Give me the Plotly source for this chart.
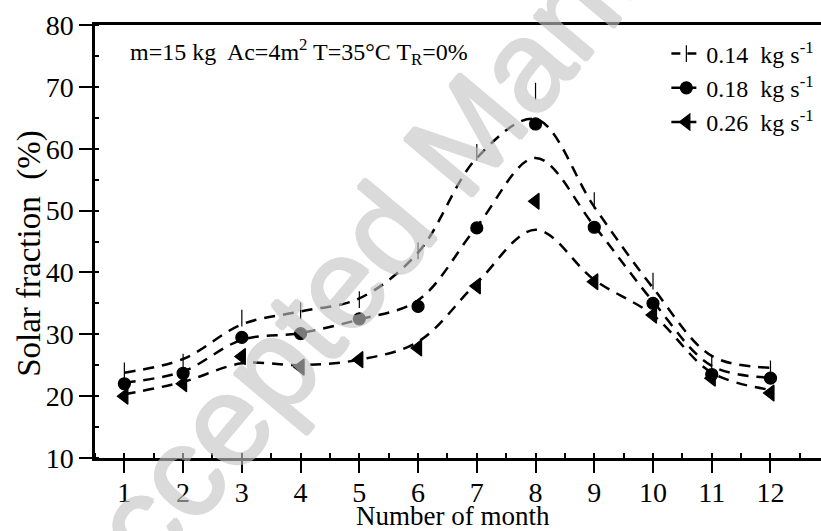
import plotly.graph_objects as go

months = [1, 2, 3, 4, 5, 6, 7, 8, 9, 10, 11, 12]

# measured points
sf_014 = [24.1, 25.5, 32.6, 33.8, 35.6, 43.5, 59.4, 69.3, 51.6, 38.6, 25.2, 24.4]
sf_018 = [22.0, 23.7, 29.5, 30.1, 32.5, 34.5, 47.2, 64.0, 47.3, 35.0, 23.5, 22.9]
sf_026 = [20.0, 22.0, 26.4, 24.7, 25.9, 27.8, 37.8, 51.5, 38.5, 33.1, 22.9, 20.5]

# fitted (smoothed) curves read at each month
fit_014 = [23.8, 26.0, 31.6, 33.7, 35.8, 43.2, 58.5, 64.8, 50.6, 37.5, 26.5, 24.6]
fit_018 = [22.2, 24.0, 29.1, 30.2, 32.4, 35.5, 47.4, 58.5, 47.5, 35.3, 24.9, 23.0]
fit_026 = [20.3, 22.3, 25.3, 25.0, 25.9, 28.8, 38.3, 46.9, 38.8, 33.1, 23.8, 21.0]

labels = ["0.14  kg s<sup>-1</sup>", "0.18  kg s<sup>-1</sup>", "0.26  kg s<sup>-1</sup>"]
symbols = ["line-ns-open", "circle", "triangle-left"]
sizes = [12, 12, 14]

FONT = "Liberation Serif"
DASH = "11px,8px"

fig = go.Figure()
for pts, fit, lab, sym, sz in zip([sf_014, sf_018, sf_026], [fit_014, fit_018, fit_026], labels, symbols, sizes):
    fig.add_trace(go.Scatter(x=months, y=fit, mode="lines", line=dict(color="black", width=2.5, dash=DASH, shape="spline"),
                             showlegend=False, hoverinfo="skip"))
    fig.add_trace(go.Scatter(x=months, y=pts, mode="markers",
                             marker=dict(symbol=sym, size=sz, color="black", line=dict(color="black", width=1.2)),
                             showlegend=False))
    fig.add_trace(go.Scatter(x=[None], y=[None], mode="lines+markers", name=lab,
                             line=dict(color="black", width=2.5, dash="9px,7px"),
                             marker=dict(symbol=sym, size=sz, color="black", line=dict(color="black", width=1.2))))

fig.update_layout(
    width=821, height=531,
    margin=dict(l=95, r=0, t=25, b=73, autoexpand=False),
    paper_bgcolor="white", plot_bgcolor="white",
    font=dict(family=FONT, color="black", size=26),
    legend=dict(x=0.787, y=0.985, xanchor="left", yanchor="top", bgcolor="rgba(0,0,0,0)",
                font=dict(family=FONT, size=24), tracegroupgap=0),
    xaxis=dict(range=[0.5, 12.86], tickmode="array", tickvals=months, ticktext=[str(m) for m in months],
               showline=True, linecolor="black", linewidth=2.5, mirror=True, showgrid=False, zeroline=False,
               ticks="outside", ticklen=12, tickwidth=2, tickcolor="black", ticklabelstandoff=-4,
               tickfont=dict(family=FONT, size=28),
               minor=dict(ticks="inside", ticklen=5, tickwidth=1.5, tickcolor="black", dtick=0.5, tick0=0.5, showgrid=False)),
    yaxis=dict(range=[10, 80], tickvals=[10, 20, 30, 40, 50, 60, 70, 80],
               showline=True, linecolor="black", linewidth=2.5, mirror=False, showgrid=False, zeroline=False,
               ticks="outside", ticklen=13, tickwidth=2, tickcolor="black",
               tickfont=dict(family=FONT, size=28),
               minor=dict(ticks="inside", ticklen=4, tickwidth=1.5, tickcolor="black", dtick=5, tick0=5, showgrid=False)),
)

fig.add_annotation(text="Number of month", xref="paper", yref="paper", x=0.493, y=-0.135,
                   xanchor="center", yanchor="middle", showarrow=False, font=dict(family=FONT, size=27))
fig.add_annotation(text="Solar fraction  (%)", xref="paper", yref="paper", x=-0.09, y=0.473,
                   xanchor="center", yanchor="middle", textangle=-90, showarrow=False, font=dict(family=FONT, size=33))
fig.add_annotation(text="m=15 kg  Ac=4m<sup>2</sup> T=35°C T<sub>R</sub>=0%", xref="paper", yref="paper",
                   x=(128 - 95) / 726, y=(458 - 52) / 433, xanchor="left", yanchor="middle", showarrow=False,
                   font=dict(family=FONT, size=24))

# watermark
wm = "rgb(196,196,196)"
shadow = ", ".join(f"{dx}px {dy}px 0px {wm}" for dx, dy in [(1.5, 0), (-1.5, 0), (0, 1.5), (0, -1.5)])
fig.add_annotation(text="Accepted Manuscript", xref="paper", yref="paper", x=(449 - 95) / 726, y=(458 - 154) / 433,
                   xanchor="center", yanchor="middle", textangle=-50, showarrow=False, opacity=0.62,
                   font=dict(family="Liberation Sans", size=129, color=wm, shadow=shadow))

fig.write_html("out.html")
